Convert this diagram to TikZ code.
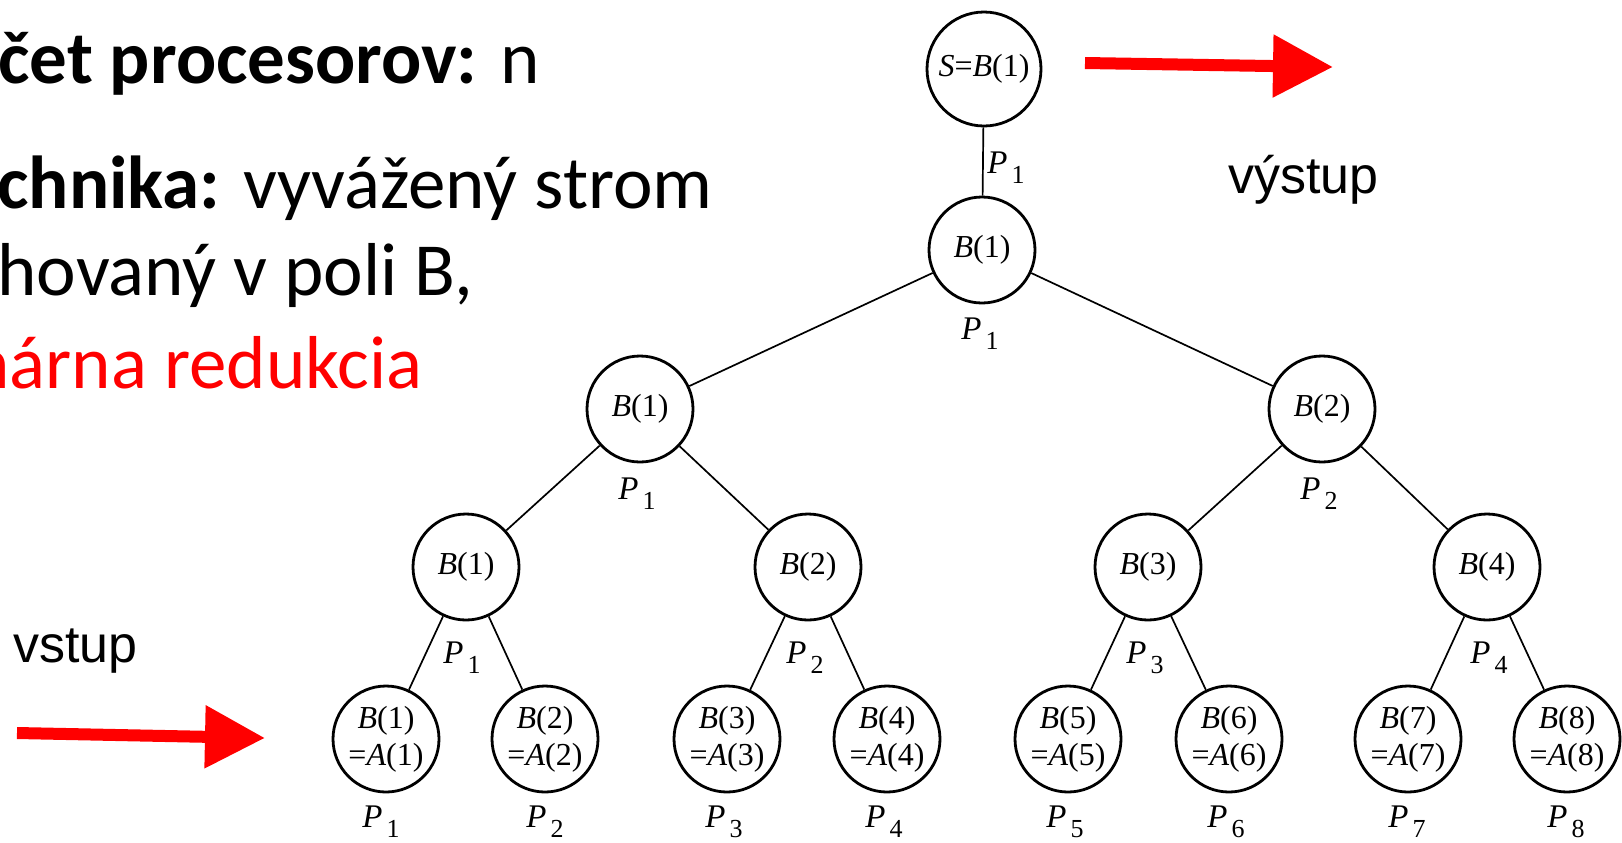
\documentclass[tikz,border=0pt]{standalone}
\usepackage{fontspec}
\setmainfont{Carlito}
\newfontfamily\tms{Liberation Serif}
\newfontfamily\arialf{Liberation Sans}
\usetikzlibrary{arrows.meta}
\newcommand\Bx[1]{\textit{B}(#1)}
\newcommand\Ax[1]{=\textit{A}(#1)}
\newcommand\Pl[1]{\textit{P}\kern2pt\raisebox{-5pt}{\fontsize{13}{13}\selectfont #1}}
\begin{document}
\begin{tikzpicture}[x=0.5pt,y=-0.5pt,
  tnode/.style={circle, draw, line width=1.4pt, inner sep=0pt, minimum size=53pt,
    font=\tms\fontsize{16}{18.5}\selectfont, align=center},
  rootnode/.style={tnode, minimum size=57pt},
  edge/.style={line width=0.85pt},
  plabel/.style={inner sep=0pt, font=\tms\fontsize{16.5}{18}\selectfont},
  redarrow/.style={draw=red, line width=6pt, -{Triangle[length=30pt,width=30pt]}},
  bigtext/.style={anchor=base west, inner sep=0pt, font=\fontsize{37.5}{45}\selectfont},
  sidetext/.style={anchor=base west, inner sep=0pt, font=\arialf\fontsize{26}{30}\selectfont}]
\useasboundingbox (0,0) rectangle (1622,842);

% left text
\node[bigtext] (t1) at (-2,83) {\textbf{čet procesorov:} n};
\node[bigtext] (t2) at (-3,208) {\textbf{chnika:} vyvážený strom};
\node[bigtext] (t3) at (-3,295) {hovaný v poli B,};
\node[bigtext, text=red] (t4) at (-30,388) {nárna redukcia};

% side texts
\node[sidetext] (vyst) at (1228,193) {výstup};
\node[sidetext] (vst) at (13,662) {vstup};

% arrows
\coordinate (inA) at (17,733);
\coordinate (inB) at (265,738);
\draw[redarrow] (inA) -- (inB);
\coordinate (outA) at (1085,63);
\coordinate (outB) at (1333,67);
\draw[redarrow] (outA) -- (outB);

% tree nodes
\node[rootnode] (root) at (984,69) {\textit{S}=\Bx{1}};
\node[tnode] (b1) at (982,250) {\Bx{1}};
\node[tnode] (c1) at (640,409) {\Bx{1}};
\node[tnode] (c2) at (1322,409) {\Bx{2}};
\node[tnode] (d1) at (466,567) {\Bx{1}};
\node[tnode] (d2) at (808,567) {\Bx{2}};
\node[tnode] (d3) at (1148,567) {\Bx{3}};
\node[tnode] (d4) at (1487,567) {\Bx{4}};
\node[tnode] (l1) at (386,739) {\Bx{1}\\\Ax{1}};
\node[tnode] (l2) at (545,739) {\Bx{2}\\\Ax{2}};
\node[tnode] (l3) at (727,739) {\Bx{3}\\\Ax{3}};
\node[tnode] (l4) at (887,739) {\Bx{4}\\\Ax{4}};
\node[tnode] (l5) at (1068,739) {\Bx{5}\\\Ax{5}};
\node[tnode] (l6) at (1229,739) {\Bx{6}\\\Ax{6}};
\node[tnode] (l7) at (1408,739) {\Bx{7}\\\Ax{7}};
\node[tnode] (l8) at (1567,739) {\Bx{8}\\\Ax{8}};

% edges
\draw[edge] (root) -- (b1);
\draw[edge] (b1) -- (c1);
\draw[edge] (b1) -- (c2);
\draw[edge] (c1) -- (d1);
\draw[edge] (c1) -- (d2);
\draw[edge] (c2) -- (d3);
\draw[edge] (c2) -- (d4);
\draw[edge] (d1) -- (l1);
\draw[edge] (d1) -- (l2);
\draw[edge] (d2) -- (l3);
\draw[edge] (d2) -- (l4);
\draw[edge] (d3) -- (l5);
\draw[edge] (d3) -- (l6);
\draw[edge] (d4) -- (l7);
\draw[edge] (d4) -- (l8);

% processor labels
\node[plabel] (pr) at (1006,168) {\Pl{1}};
\node[plabel] (pb) at (980,334) {\Pl{1}};
\node[plabel] (pc1) at (637,494) {\Pl{1}};
\node[plabel] (pc2) at (1319,494) {\Pl{2}};
\node[plabel] (pd1) at (462,658) {\Pl{1}};
\node[plabel] (pd2) at (805,658) {\Pl{2}};
\node[plabel] (pd3) at (1145,658) {\Pl{3}};
\node[plabel] (pd4) at (1489,658) {\Pl{4}};
\node[plabel] (pl1) at (381,822) {\Pl{1}};
\node[plabel] (pl2) at (545,822) {\Pl{2}};
\node[plabel] (pl3) at (724,822) {\Pl{3}};
\node[plabel] (pl4) at (884,822) {\Pl{4}};
\node[plabel] (pl5) at (1065,822) {\Pl{5}};
\node[plabel] (pl6) at (1226,822) {\Pl{6}};
\node[plabel] (pl7) at (1407,822) {\Pl{7}};
\node[plabel] (pl8) at (1566,822) {\Pl{8}};
\end{tikzpicture}
\end{document}
